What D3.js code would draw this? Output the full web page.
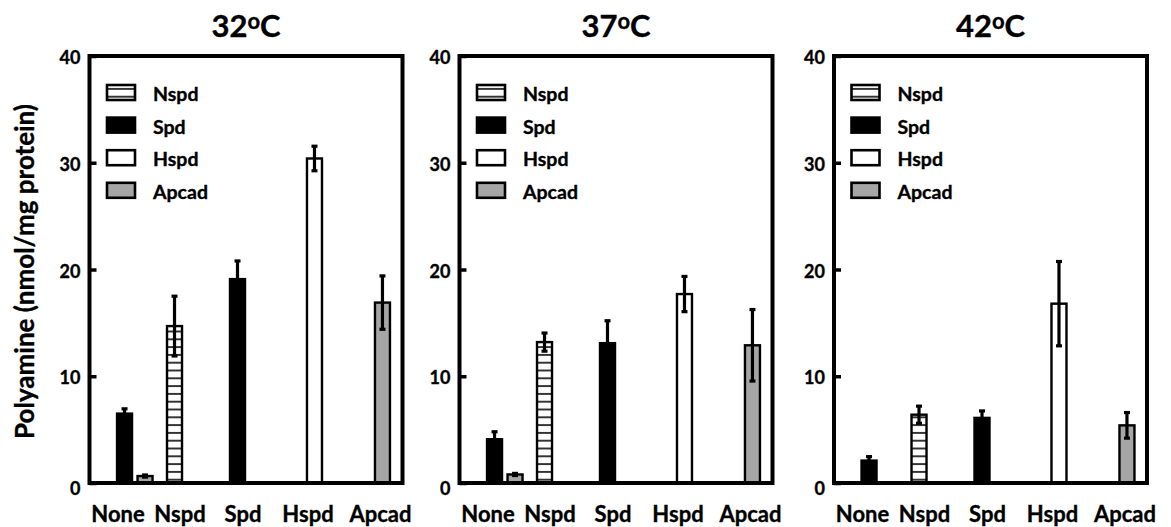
<!DOCTYPE html>
<html>
<head>
<meta charset="utf-8">
<script src="https://cdn.jsdelivr.net/npm/d3@7"></script>
<style>
  body { margin: 0; background: #fff; }
  text { font-family: Lato, "Open Sans", sans-serif; font-weight: bold; fill: #000;
         stroke: #000; stroke-width: 0.35px; }
</style>
</head>
<body>
<svg id="chart" width="1171" height="527"></svg>
<script>
// polyamine content per temperature

const temps = ["32", "37", "42"];
const categories = ["None", "Nspd", "Spd", "Hspd", "Apcad"];
const legendSeries = ["Nspd", "Spd", "Hspd", "Apcad"];
const yTicks = [0, 10, 20, 30, 40];

// one entry per bar, same order in every panel
const barCategory = ["None", "None", "Nspd", "Spd", "Hspd", "Apcad"];
const barSeries = ["Spd", "Apcad", "Nspd", "Spd", "Hspd", "Apcad"];

const mean32 = [6.5, 0.65, 14.7, 19.1, 30.4, 16.9];
const err32 = [0.45, 0.1, 2.8, 1.7, 1.15, 2.5];
const mean37 = [4.1, 0.8, 13.2, 13.1, 17.7, 12.9];
const err37 = [0.7, 0.1, 0.85, 2.1, 1.65, 3.35];
const mean42 = [2.1, 0, 6.4, 6.1, 16.8, 5.4];
const err42 = [0.37, 0, 0.8, 0.65, 3.95, 1.2];

const means = [mean32, mean37, mean42];
const errs = [err32, err37, err42];

// layout
const panelLeft = [89.5, 459.5, 834];
const panelWidth = 313;
const plotTop = 56, plotBottom = 483;
const barW = 15;
// small hand offsets: the source figure does not space labels/bars evenly
const labelNudge = { None: 0, Nspd: -3.5, Spd: -6, Hspd: -6.5, Apcad: 0.5 };
const barNudge = { None: 6.5, Nspd: -9, Spd: -11.5, Hspd: 0, Apcad: 2.5 };

const fills = { Spd: "#000", Hspd: "#fff", Apcad: "#a6a6a6", Nspd: "url(#stripes)" };

const svg = d3.select("#chart");

const defs = svg.append("defs");
const pat = defs.append("pattern")
  .attr("id", "stripes")
  .attr("patternUnits", "userSpaceOnUse")
  .attr("width", 8).attr("height", 7.8);
pat.append("rect").attr("width", 8).attr("height", 7.8).attr("fill", "#fff");
pat.append("rect").attr("y", 3).attr("width", 8).attr("height", 1.8).attr("fill", "#222");

const y = d3.scaleLinear().domain([0, 40]).range([plotBottom, plotTop]);

// y axis title
svg.append("text")
  .attr("transform", `translate(34,${(plotTop + plotBottom) / 2 + 2}) rotate(-90)`)
  .attr("text-anchor", "middle")
  .style("font-size", "26px")
  .text("Polyamine (nmol/mg protein)");

temps.forEach((t, p) => {
  const x0 = panelLeft[p], x1 = x0 + panelWidth;
  const g = svg.append("g");

  const x = d3.scalePoint().domain(categories).range([x0 + 3, x1 + 3]).padding(0.39);

  // title
  const title = g.append("text")
    .attr("x", (x0 + x1) / 2)
    .attr("y", 37)
    .attr("text-anchor", "middle")
    .style("font-size", "31px");
  title.append("tspan").text(t);
  title.append("tspan").attr("dy", -8).style("font-size", "22px").text("o");
  title.append("tspan").attr("dy", 8).text("C");

  // bars
  const rows = barCategory.map((c, i) => ({
    cat: c, series: barSeries[i], mean: means[p][i], err: errs[p][i]
  })).filter(d => d.mean > 0);

  // position inside a category group (None holds two bars)
  const seen = {};
  rows.forEach(d => {
    const k = seen[d.cat] || 0;
    seen[d.cat] = k + 1;
    d.cx = x(d.cat) + barNudge[d.cat] + k * (barW + 5.5);
  });

  g.selectAll("rect.bar")
    .data(rows)
    .join("rect")
    .attr("class", "bar")
    .attr("x", d => d.cx - barW / 2)
    .attr("width", barW)
    .attr("y", d => y(d.mean))
    .attr("height", d => y(0) - y(d.mean))
    .attr("fill", d => fills[d.series])
    .attr("stroke", "#000")
    .attr("stroke-width", 2.4);

  // error bars
  const eb = g.selectAll("g.err").data(rows).join("g").attr("class", "err")
    .attr("stroke", "#000").attr("stroke-width", 3.2);
  eb.append("line")
    .attr("x1", d => d.cx).attr("x2", d => d.cx)
    .attr("y1", d => y(d.mean - d.err)).attr("y2", d => y(d.mean + d.err));
  eb.append("line")
    .attr("x1", d => d.cx - 3).attr("x2", d => d.cx + 3)
    .attr("y1", d => y(d.mean + d.err)).attr("y2", d => y(d.mean + d.err));
  eb.append("line")
    .attr("x1", d => d.cx - 3).attr("x2", d => d.cx + 3)
    .attr("y1", d => y(d.mean - d.err)).attr("y2", d => y(d.mean - d.err));

  // frame
  g.append("rect")
    .attr("x", x0).attr("y", plotTop)
    .attr("width", panelWidth).attr("height", plotBottom - plotTop)
    .attr("fill", "none").attr("stroke", "#000").attr("stroke-width", 4);

  // y axis, ticks point into the frame
  const ax = g.append("g")
    .attr("transform", `translate(${x0},0)`)
    .call(d3.axisLeft(y).tickValues(yTicks).tickSize(-7).tickPadding(9));
  ax.select(".domain").remove();
  ax.selectAll(".tick line").attr("stroke", "#000").attr("stroke-width", 3.5);
  ax.selectAll(".tick text")
    .style("font-family", "Lato, sans-serif")
    .style("font-weight", "bold")
    .style("font-size", "18px")
    .attr("dy", d => d === 0 ? "0.62em" : "0.42em");

  // category labels
  g.selectAll("text.cat")
    .data(categories)
    .join("text")
    .attr("class", "cat")
    .attr("x", d => x(d) + labelNudge[d])
    .attr("y", plotBottom + 39)
    .attr("text-anchor", "middle")
    .style("font-size", "22px")
    .text(d => d);

  // legend
  const lg = g.append("g").attr("transform", `translate(${x0 + 17.5},${plotTop + 29})`);
  const item = lg.selectAll("g").data(legendSeries).join("g")
    .attr("transform", (d, i) => `translate(0,${i * 32.6})`);
  item.append("rect")
    .attr("width", 28).attr("height", 15)
    .attr("fill", d => fills[d])
    .attr("stroke", "#000").attr("stroke-width", 2.6);
  item.append("text")
    .attr("x", 46).attr("y", 16)
    .style("font-size", "19.5px")
    .text(d => d);
});
</script>
</body>
</html>
